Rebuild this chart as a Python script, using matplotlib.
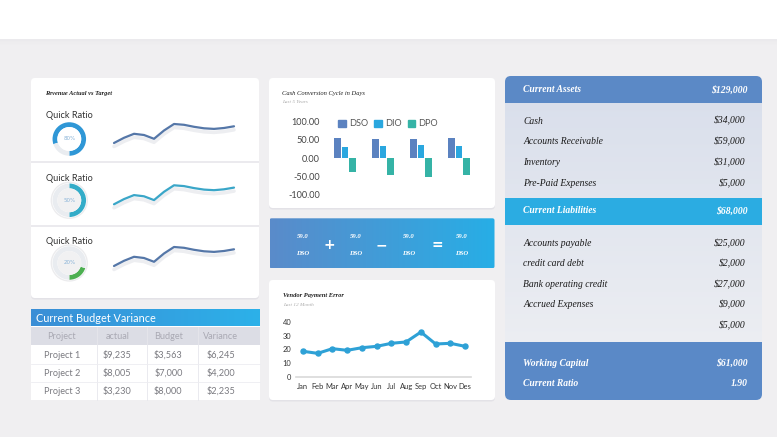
import numpy as np
import matplotlib
matplotlib.use("Agg")
import matplotlib.pyplot as plt
import matplotlib.patheffects as pe
from matplotlib.patches import FancyBboxPatch, Rectangle, Circle, Patch
from matplotlib.colors import LinearSegmentedColormap

W, H = 777, 437

# left card: quick ratio donuts + revenue sparklines
quick_ratio = [80, 50, 20]
ratio_colors = ["#2f97d6", "#33acc8", "#4caf50"]
spark_colors = ["#5577a8", "#3aa6c8", "#5577a8"]
revenue_trend = [7, 12.2, 16.2, 15, 11.2, 19.5, 26, 25.2, 23.2, 21.7, 21.1, 22, 23.7]

# cash conversion cycle
periods = ["Y1", "Y2", "Y3", "Y4"]
dso = [54, 52, 53, 55.5]
dio = [30, 32, 36, 32]
dpo = [-39, -45.5, -52, -47]

# vendor payment error
months = ["Jan", "Feb", "Mar", "Apr", "May", "Jun",
          "Jul", "Aug", "Sep", "Oct", "Nov", "Des"]
vendor_error = [18.7, 17.2, 20.6, 19.4, 21.3, 22.3,
                24.5, 25.5, 32.7, 24, 24.5, 22.3]

# budget table
budget_cols = ["Project", "actual", "Budget", "Variance"]
projects = ["Project 1", "Project 2", "Project 3"]
actual = ["$9,235", "$8,005", "$3,230"]
budget = ["$3,563", "$7,000", "$8,000"]
variance = ["$6,245", "$4,200", "$2,235"]

# banner
banner_values = ["59.0", "59.0", "59.0", "59.0"]
banner_labels = ["DSO", "DSO", "DSO", "DSO"]
banner_ops = ["+", "\u2212", "="]

# balance panel
assets_total = "$129,000"
asset_items = ["Cash", "Accounts Receivable", "Inventory", "Pre-Paid Expenses"]
asset_values = ["$34,000", "$59,000", "$31,000", "$5,000"]
liab_total = "$68,000"
liab_items = ["Accounts payable", "credit card debt", "Bank operating credit",
              "Accrued Expenses", ""]
liab_values = ["$25,000", "$2,000", "$27,000", "$9,000", "$5,000"]
summary_items = ["Working Capital", "Current Ratio"]
summary_values = ["$61,000", "1.90"]

SERIF = ["Liberation Serif", "DejaVu Serif"]
SANS = ["Lato", "DejaVu Sans"]


def px_axes(fig, x, y, w, h):
    """Axes placed with pixel coords (top-left origin)."""
    return fig.add_axes([x / W, 1 - (y + h) / H, w / W, h / H])


def card(ax, x, y, w, h, color="white", r=4, shadow=True, z=1):
    if shadow:
        ax.add_patch(FancyBboxPatch((x, y + 1.5), w, h,
                                    boxstyle=f"round,pad=0,rounding_size={r}",
                                    fc="#e3e2e7", ec="none", zorder=z - 0.5))
    p = FancyBboxPatch((x, y), w, h, boxstyle=f"round,pad=0,rounding_size={r}",
                       fc=color, ec="none", zorder=z)
    ax.add_patch(p)
    return p


def gradient(ax, patch, x, y, w, h, c0, c1, vertical=False, z=2):
    cmap = LinearSegmentedColormap.from_list("g", [c0, c1])
    g = np.linspace(0, 1, 256)
    g = g.reshape(-1, 1) if vertical else g.reshape(1, -1)
    im = ax.imshow(g, cmap=cmap, extent=(x, x + w, y + h, y),
                   aspect="auto", zorder=z, interpolation="bilinear")
    im.set_clip_path(patch)


def draw_background(fig):
    bg = px_axes(fig, 0, 0, W, H)
    bg.axis("off")
    bg.add_patch(Rectangle((0, 0), W, H, fc="#f0eff1", ec="none", zorder=0))
    bg.add_patch(Rectangle((0, 0), W, 39, fc="white", ec="none", zorder=0.2))
    for i, a in enumerate([0.10, 0.07, 0.04, 0.02]):
        bg.add_patch(Rectangle((0, 39 + i * 1.5), W, 1.5, fc="#c8c6cc",
                               alpha=a, ec="none", zorder=0.2))
    return bg


def draw_left(fig, bg):
    card(bg, 31, 78, 228, 220)
    for y in [162, 226]:
        bg.add_patch(Rectangle((31, y - 1), 228, 2, fc="#ebeaee", ec="none", zorder=2))
    bg.text(45, 93, "Revenue Actual vs Target", family=SERIF, style="italic",
            weight="bold", fontsize=4.6, color="#222", va="center", zorder=3)

    label_y = [115.3, 178.7, 241.3]
    centers = [139, 200.3, 263]
    offsets = [0, 61.3, 123]
    for i, pct in enumerate(quick_ratio):
        bg.text(69.3, label_y[i], "Quick Ratio", family=SANS, fontsize=6.6,
                color="#333", ha="center", va="center", zorder=3)
        ax = px_axes(fig, 69.3 - 19, centers[i] - 19, 38, 38)
        ax.set_xlim(-1.1, 1.1)
        ax.set_ylim(-1.1, 1.1)
        ax.axis("off")
        if i > 0:
            ax.add_patch(Circle((0, 0), 1.08, fc="#ececee", ec="none"))
            ax.add_patch(Circle((0, 0), 1.0, fc="white", ec="none"))
        ax.pie([pct, 100 - pct], colors=[ratio_colors[i], "#e9ecf0"],
               startangle=270, counterclock=True, radius=0.97,
               wedgeprops=dict(width=0.28, edgecolor="none"))
        inner = "white" if i == 0 else "#f1f1f2"
        ax.add_patch(Circle((0, 0), 0.69, fc=inner, ec="none"))
        ax.set_xlim(-1.1, 1.1)
        ax.set_ylim(-1.1, 1.1)
        ax.text(0, 0, f"{pct}%", fontsize=4, color="#8ab4d8",
                ha="center", va="center")

        sp = px_axes(fig, 114, 120 + offsets[i], 120, 30)
        sp.set_xlim(0, len(revenue_trend) - 1)
        sp.set_ylim(0, 30)
        sp.axis("off")
        sp.plot(range(len(revenue_trend)), revenue_trend, color=spark_colors[i],
                lw=1.6, solid_capstyle="round", solid_joinstyle="round",
                clip_on=False,
                path_effects=[pe.SimpleLineShadow(offset=(0, -2.5),
                                                   shadow_color="#c4c7d2",
                                                   alpha=0.3, linewidth=2.6),
                              pe.Normal()])


def draw_budget(bg):
    bg.add_patch(Rectangle((31, 309), 229, 91, fc="white", ec="none", zorder=1))
    hdr = Rectangle((31, 309), 229, 17.5, fc="none", ec="none", zorder=2)
    bg.add_patch(hdr)
    gradient(bg, hdr, 31, 309, 229, 17.5, "#3b8ed6", "#2cb1e9")
    bg.text(36.5, 318, "Current Budget Variance", family=SANS, fontsize=7.8,
            color="white", va="center", zorder=3)
    bg.add_patch(Rectangle((31, 326.5), 229, 18, fc="#dcdde5", ec="none", zorder=2))
    col_x = [61.7, 117.3, 168.3, 220.7]
    for x in [96.7, 147.3, 198.3]:
        bg.plot([x, x], [326.5, 400], color="#e6e6ec", lw=0.6, zorder=3)
    for y in [364.3, 382.3]:
        bg.plot([31, 260], [y, y], color="#ededf1", lw=0.6, zorder=3)
    for x, name in zip(col_x, budget_cols):
        bg.text(x, 336.5, name, family=SANS, fontsize=6.6, color="#a9a9b3",
                ha="center", va="center", zorder=3)
    row_y = [355, 373.3, 391]
    for j in range(len(projects)):
        for x, val in zip(col_x, [projects[j], actual[j], budget[j], variance[j]]):
            bg.text(x, row_y[j], val, family=SANS, fontsize=6.6, color="#7a7a80",
                    ha="center", va="center", zorder=3)


def draw_ccc(fig, bg):
    card(bg, 269, 78, 226, 130)
    bg.text(282, 93, "Cash Conversion Cycle in Days", family=SERIF, style="italic",
            fontsize=4.7, color="#222", va="center", zorder=3)
    bg.text(282, 102, "Last 5 Years", family=SERIF, style="italic",
            fontsize=3.8, color="#aaaaaa", va="center", zorder=3)

    ax = px_axes(fig, 326, 121.3, 152, 73.4)
    x = np.arange(len(periods))
    ax.bar(x - 0.2, dso, 0.18, color="#5b82c0")
    ax.bar(x, dio, 0.18, color="#2aa7df")
    ax.bar(x + 0.2, dpo, 0.18, color="#35b3a6")
    ax.set_xlim(-0.5, 3.5)
    ax.set_ylim(-100, 100)
    ax.set_yticks([-100, -50, 0, 50, 100])
    ax.set_yticklabels([f"{v:.2f}" for v in [-100, -50, 0, 50, 100]],
                       family=SANS, fontsize=6.6, color="#444")
    ax.set_xticks([])
    ax.tick_params(length=0, pad=4.5)
    for s in ax.spines.values():
        s.set_visible(False)
    ax.patch.set_alpha(0)
    handles = [Patch(color="#5b82c0", label="DSO"),
               Patch(color="#2aa7df", label="DIO"),
               Patch(color="#35b3a6", label="DPO")]
    leg = ax.legend(handles=handles, loc="center", bbox_to_anchor=(0.41, 0.965),
                    ncol=3, frameon=False, handlelength=0.8,
                    handleheight=0.8, handletextpad=0.35, columnspacing=0.7,
                    prop={"family": SANS, "size": 6.6})
    for t in leg.get_texts():
        t.set_color("#555")


def draw_banner(bg):
    p = FancyBboxPatch((269.5, 218.3), 225, 50, boxstyle="round,pad=0,rounding_size=2",
                       fc="none", ec="none", zorder=1)
    bg.add_patch(p)
    gradient(bg, p, 269.5, 218.3, 225, 50, "#5a8bca", "#27aee6")
    col_x = [303, 355.7, 408.5, 461.3]
    for x, v, lab in zip(col_x, banner_values, banner_labels):
        bg.text(x, 236.7, v, family=SERIF, style="italic", weight="bold",
                fontsize=4.8, color="white", ha="center", va="center", zorder=3)
        bg.text(x, 253.3, lab, family=SERIF, style="italic", weight="bold",
                fontsize=4.8, color="white", ha="center", va="center", zorder=3)
    for x, op in zip([329.5, 381.3, 437], banner_ops):
        bg.text(x, 245, op, family=["DejaVu Sans"], weight="bold", fontsize=10,
                color="white", ha="center", va="center", zorder=3)


def draw_vendor(fig, bg):
    card(bg, 269, 280, 226, 120)
    bg.text(283, 296, "Vendor Payment Error", family=SERIF, style="italic",
            weight="bold", fontsize=4.7, color="#222", va="center", zorder=3)
    bg.text(283, 305, "Last 12 Month", family=SERIF, style="italic",
            fontsize=3.8, color="#aaaaaa", va="center", zorder=3)

    ax = px_axes(fig, 296, 322, 175, 55)
    ax.plot(range(len(months)), vendor_error, color="#2ea1d6", lw=2.2,
            marker="o", ms=3.6, clip_on=False)
    ax.set_xlim(-0.47, 11.4)
    ax.set_ylim(0, 40)
    ax.set_yticks([0, 10, 20, 30, 40])
    ax.set_xticks(range(len(months)))
    ax.set_xticklabels(months)
    for lab in ax.get_xticklabels() + ax.get_yticklabels():
        lab.set_family(SANS)
        lab.set_fontsize(5.4)
        lab.set_color("#333")
    ax.tick_params(length=0)
    ax.tick_params(axis="y", pad=3.4)
    ax.tick_params(axis="x", pad=4.2)
    for name, s in ax.spines.items():
        s.set_visible(name == "bottom")
    ax.spines["bottom"].set_color("#d9d9d9")
    ax.spines["bottom"].set_linewidth(1.2)
    ax.patch.set_alpha(0)


def draw_balance(bg):
    x0, w = 505, 257
    panel = card(bg, x0, 76, w, 324, color="none", r=6, shadow=False)
    gradient(bg, panel, x0, 76, w, 324, "#d8deeb", "#f0f1f4", vertical=True, z=1)
    for y, h, c in [(76, 27.3, "#5b89c6"), (198.3, 26.7, "#2bace2"),
                    (341.7, 58.3, "#5a89c7")]:
        r = Rectangle((x0, y), w, h, fc=c, ec="none", zorder=2)
        bg.add_patch(r)
        r.set_clip_path(panel)
    left, right = 523.3, 748

    def row(y, label, value, header=False):
        kw = dict(family=SERIF, style="italic", fontsize=6.9, va="center", zorder=3)
        if header:
            kw.update(weight="bold", color="white")
        else:
            kw.update(color="#1a1a1a")
        bg.text(left, y, label, ha="left", **kw)
        bg.text(right - (0 if header else 2.5), y, value, ha="right", **kw)

    row(90, "Current Assets", assets_total, header=True)
    for y, lab, v in zip([121, 141.7, 162.7, 183.3], asset_items, asset_values):
        row(y, lab, v)
    row(210.7, "Current Liabilities", liab_total, header=True)
    for y, lab, v in zip([244, 264, 284.3, 304.7, 325.3], liab_items, liab_values):
        row(y, lab, v)
    for y, lab, v in zip([363.3, 383.3], summary_items, summary_values):
        row(y, lab, v, header=True)


def main() -> None:
    fig = plt.figure(figsize=(W / 100, H / 100), dpi=100)
    bg = draw_background(fig)
    draw_left(fig, bg)
    draw_budget(bg)
    draw_ccc(fig, bg)
    draw_banner(bg)
    draw_vendor(fig, bg)
    draw_balance(bg)
    bg.set_xlim(0, W)
    bg.set_ylim(H, 0)
    bg.set_aspect("auto")
    fig.savefig("out.png", dpi=100)


if __name__ == "__main__":
    main()
